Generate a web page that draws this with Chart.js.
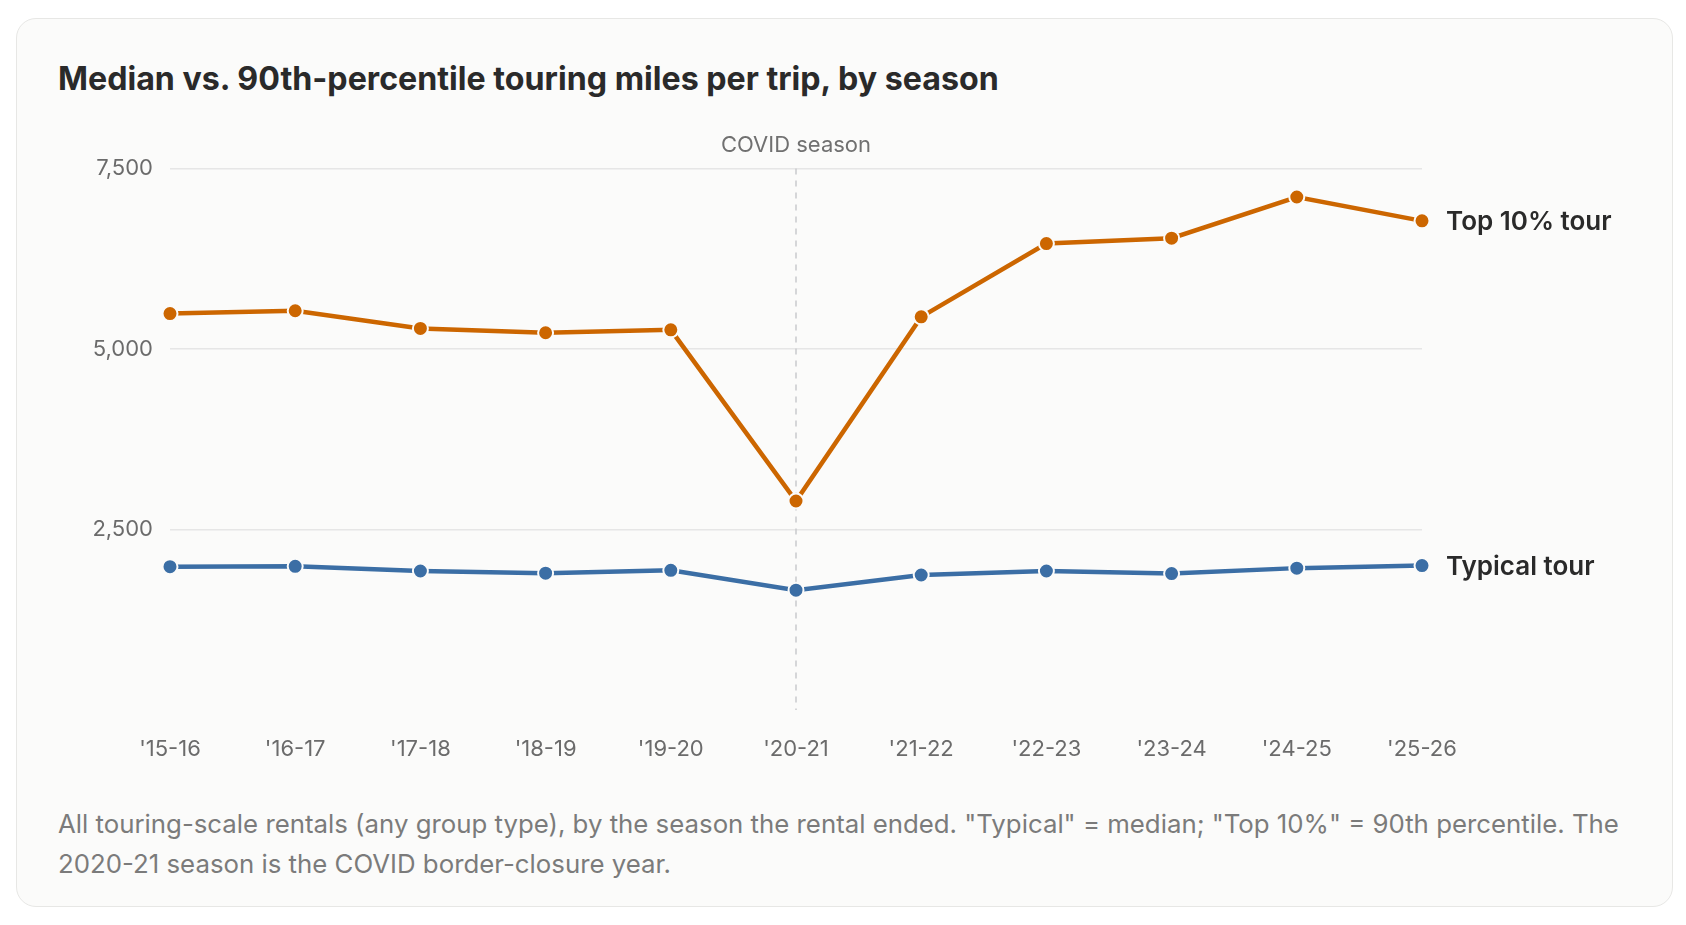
<!DOCTYPE html>
<html>
<head>
<meta charset="utf-8">
<script src="https://cdn.jsdelivr.net/npm/chart.js@4.4.1/dist/chart.umd.min.js"></script>
<style>
  html, body { margin: 0; padding: 0; background: #ffffff; }
  body { width: 1686px; height: 925px; position: relative; overflow: hidden; font-family: Inter, "Noto Sans", sans-serif; }
  .card {
    position: absolute; left: 16px; top: 18px; width: 1657px; height: 889px;
    box-sizing: border-box; background: #fbfbfa; border: 1.5px solid #e7e7e5; border-radius: 20px;
  }
  .title {
    position: absolute; left: 58px; top: 60px; margin: 0;
    font-size: 32.2px; line-height: 38px; font-weight: 700; color: #2a2a2a; white-space: nowrap;
  }
  .chart-box { position: absolute; left: 0; top: 100px; width: 1686px; height: 680px; }
  .note {
    position: absolute; left: 58px; top: 804px; width: 1575px; margin: 0;
    font-size: 25.8px; line-height: 40px; color: #7b7b7b;
  }
</style>
</head>
<body>
<div class="card"></div>
<h1 class="title">Median vs. 90th-percentile touring miles per trip, by season</h1>
<div class="chart-box"><canvas id="milesChart"></canvas></div>
<p class="note">All touring-scale rentals (any group type), by the season the rental ended. "Typical" = median; "Top 10%" = 90th percentile. The 2020-21 season is the COVID border-closure year.</p>

<script>
// Values
const seasons = ["'15-16", "'16-17", "'17-18", "'18-19", "'19-20", "'20-21", "'21-22", "'22-23", "'23-24", "'24-25", "'25-26"];
const typicalMiles = [1985, 1990, 1925, 1895, 1935, 1660, 1870, 1925, 1890, 1965, 2000];
const top10Miles = [5490, 5530, 5285, 5225, 5265, 2895, 5445, 6460, 6535, 7105, 6775];
const yTicks = [2500, 5000, 7500];
const covidSeason = "'20-21";

const ORANGE = '#cc6600';
const BLUE = '#3b6ea5';
const CARD_BG = '#fbfbfa';

Chart.defaults.font.family = 'Inter, "Noto Sans", sans-serif';

// Dashed marker for the COVID season, drawn under the lines
const covidMarker = {
  id: 'covidMarker',
  beforeDatasetsDraw(chart) {
    const { ctx, chartArea, scales } = chart;
    const x = scales.x.getPixelForValue(seasons.indexOf(covidSeason));
    ctx.save();
    ctx.strokeStyle = '#c9cacd';
    ctx.lineWidth = 1.5;
    ctx.setLineDash([6, 6]);
    ctx.beginPath();
    ctx.moveTo(x, chartArea.top);
    ctx.lineTo(x, chartArea.bottom);
    ctx.stroke();
    ctx.setLineDash([]);
    ctx.fillStyle = '#707070';
    ctx.font = '400 22px Inter, "Noto Sans", sans-serif';
    ctx.textAlign = 'center';
    ctx.textBaseline = 'alphabetic';
    ctx.fillText('COVID season', x, chartArea.top - 17);
    ctx.restore();
  }
};

// Series names written at the end of each line
const endLabels = {
  id: 'endLabels',
  afterDatasetsDraw(chart) {
    const { ctx } = chart;
    ctx.save();
    ctx.font = '600 26px Inter, "Noto Sans", sans-serif';
    ctx.fillStyle = '#2a2a2a';
    ctx.textAlign = 'left';
    ctx.textBaseline = 'middle';
    chart.data.datasets.forEach((ds, i) => {
      const pts = chart.getDatasetMeta(i).data;
      const last = pts[pts.length - 1];
      ctx.fillText(ds.label, last.x + 24, last.y + 1.5);
    });
    ctx.restore();
  }
};

const ctx = document.getElementById('milesChart').getContext('2d');
new Chart(ctx, {
  type: 'line',
  data: {
    labels: seasons,
    datasets: [
      {
        label: 'Top 10% tour',
        data: top10Miles,
        borderColor: ORANGE,
        backgroundColor: ORANGE,
        borderWidth: 4.5,
        pointRadius: 7.5,
        pointHoverRadius: 7.5,
        pointBorderWidth: 2,
        pointBorderColor: CARD_BG,
        pointBackgroundColor: ORANGE,
        tension: 0,
        fill: false
      },
      {
        label: 'Typical tour',
        data: typicalMiles,
        borderColor: BLUE,
        backgroundColor: BLUE,
        borderWidth: 4.5,
        pointRadius: 7.5,
        pointHoverRadius: 7.5,
        pointBorderWidth: 2,
        pointBorderColor: CARD_BG,
        pointBackgroundColor: BLUE,
        tension: 0,
        fill: false
      }
    ]
  },
  options: {
    responsive: true,
    maintainAspectRatio: false,
    animation: false,
    layout: {
      padding: { top: 68.5, right: 264, bottom: 0, left: 0 }
    },
    plugins: {
      legend: { display: false },
      tooltip: { enabled: false }
    },
    scales: {
      x: {
        offset: false,
        grid: { display: false, drawTicks: false },
        border: { display: false },
        ticks: {
          color: '#6b6b6b',
          font: { size: 22 },
          padding: 26,
          maxRotation: 0,
          minRotation: 0,
          autoSkip: false
        },
        afterFit(scale) { scale.height = 70; }
      },
      y: {
        min: 0,
        max: 7500,
        afterBuildTicks(scale) {
          scale.ticks = [0].concat(yTicks).map(v => ({ value: v }));
        },
        grid: {
          drawTicks: false,
          lineWidth: 1.5,
          color: c => (c.tick && c.tick.value === 0) ? 'rgba(0,0,0,0)' : '#e6e6e6'
        },
        border: { display: false },
        ticks: {
          color: '#6b6b6b',
          font: { size: 22 },
          padding: 17,
          callback: v => v === 0 ? '' : v.toLocaleString('en-US')
        },
        afterFit(scale) { scale.width = 170; }
      }
    }
  },
  plugins: [covidMarker, endLabels]
});
</script>
</body>
</html>
